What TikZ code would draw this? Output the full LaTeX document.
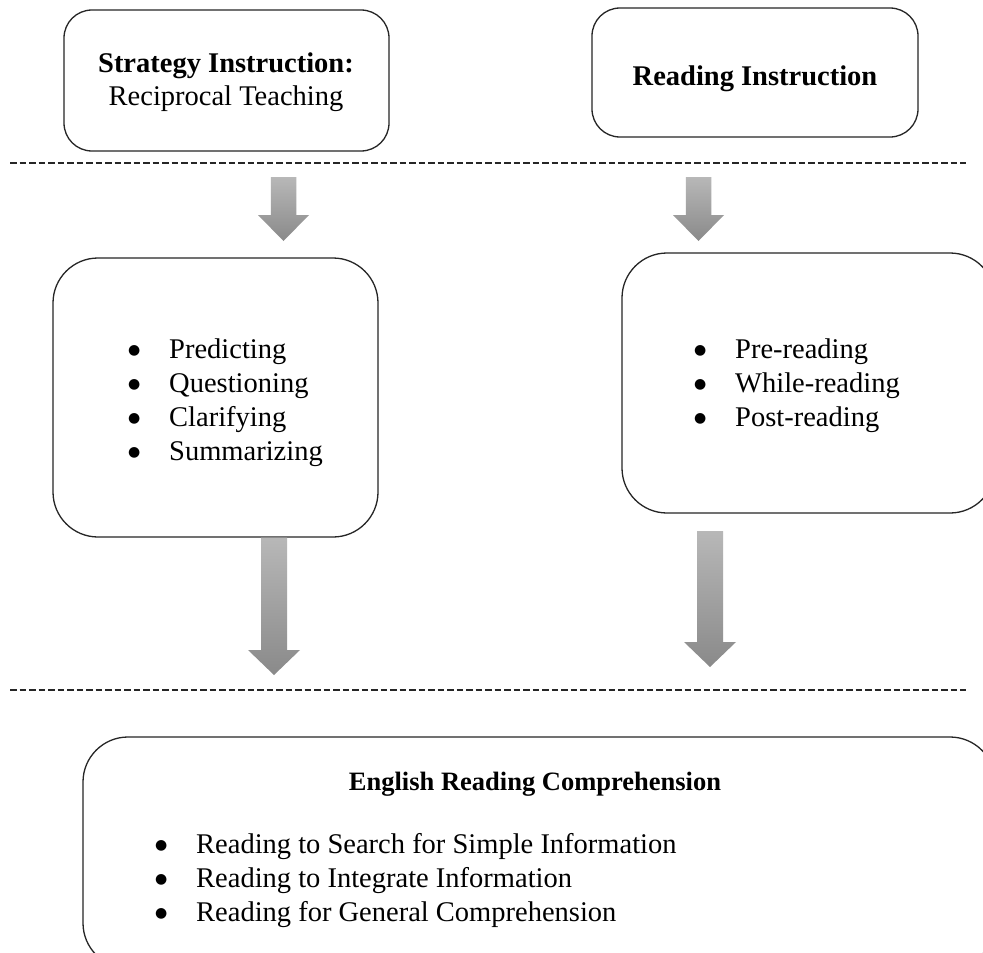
\documentclass[tikz,border=0pt]{standalone}
\usepackage{fontspec}
\setmainfont{Liberation Serif}
\newfontfamily\bulletfont{DejaVu Sans}
\usetikzlibrary{calc}
\newcommand\bitem[1]{\makebox[41pt][l]{\raisebox{3.2pt}{\fontsize{14}{16}\bulletfont ●}}#1\\}
\newcommand\blockarrow[5]{% top coord, tip coord, head length, shaft half width, head half width
  \shade[arrowshade] let \p1=(#1), \p2=(#2) in
    (\x1-#4,\y1) -- (\x1+#4,\y1) -- (\x1+#4,\y2+#3) -- (\x1+#5,\y2+#3) -- (\x1,\y2)
    -- (\x1-#5,\y2+#3) -- (\x1-#4,\y2+#3) -- cycle;}
\begin{document}
\begin{tikzpicture}[x=1pt,y=-1pt,
  roundbox/.style={draw=black!85, line width=1.3pt, inner sep=0pt},
  txt/.style={inner sep=0pt, font=\fontsize{28.5}{34}\selectfont},
  btxt/.style={inner sep=0pt, font=\fontsize{28.5}{34}\selectfont\bfseries},
  dashline/.style={draw=black!85, line width=1.2pt, dash pattern=on 6.5pt off 3pt},
  arrowshade/.style={top color=black!28, bottom color=black!46, draw=none}]
\clip (0,0) rectangle (983,953);
\fill[white] (0,0) rectangle (983,953);
% boxes
\node[roundbox, rounded corners=28pt, minimum width=325pt, minimum height=141pt] (b1) at (226.5,80.5) {};
\node[roundbox, rounded corners=28pt, minimum width=326pt, minimum height=129pt] (b2) at (755,72.5) {};
\node[roundbox, rounded corners=45pt, minimum width=325pt, minimum height=279pt] (b3) at (215.5,397.5) {};
\node[roundbox, rounded corners=45pt, minimum width=373pt, minimum height=260pt] (b4) at (808.5,383) {};
\node[roundbox, rounded corners=45pt, minimum width=912pt, minimum height=231pt] (b5) at (539,852.5) {};
% texts
\node[btxt, anchor=base] (t1a) at (226,72) {Strategy Instruction:};
\node[txt, anchor=base] (t1b) at (226,105) {Reciprocal Teaching};
\node[btxt, anchor=base] (t2) at (755,85) {Reading Instruction};
\node[txt, anchor=base west] (l3) at (128,358) {\begin{tabular}[t]{@{}l@{}}\bitem{Predicting}\bitem{Questioning}\bitem{Clarifying}\bitem{Summarizing}\end{tabular}};
\node[txt, anchor=base west] (l4) at (694,358) {\begin{tabular}[t]{@{}l@{}}\bitem{Pre-reading}\bitem{While-reading}\bitem{Post-reading}\end{tabular}};
\node[inner sep=0pt, font=\fontsize{26.5}{32}\selectfont\bfseries, anchor=base] (t5) at (535,790) {English Reading Comprehension};
\node[txt, anchor=base west] (l5) at (155,853) {\begin{tabular}[t]{@{}l@{}}\bitem{Reading to Search for Simple Information}\bitem{Reading to Integrate Information}\bitem{Reading for General Comprehension}\end{tabular}};
% dashed separators
\coordinate (d1a) at (10,163); \coordinate (d1b) at (966,163);
\coordinate (d2a) at (10,690); \coordinate (d2b) at (966,690);
\draw[dashline] (d1a) -- (d1b);
\draw[dashline] (d2a) -- (d2b);
% block arrows
\coordinate (a1s) at (283.5,177); \coordinate (a1e) at (283.5,241);
\coordinate (a2s) at (698.5,177); \coordinate (a2e) at (698.5,241);
\coordinate (a3s) at (274,537.5); \coordinate (a3e) at (274,675);
\coordinate (a4s) at (710,531); \coordinate (a4e) at (710,667);
\blockarrow{a1s}{a1e}{26pt}{12.75pt}{25.5pt}
\blockarrow{a2s}{a2e}{26pt}{12.75pt}{25.5pt}
\blockarrow{a3s}{a3e}{25pt}{13pt}{26pt}
\blockarrow{a4s}{a4e}{25pt}{13pt}{26pt}
\end{tikzpicture}
\end{document}
